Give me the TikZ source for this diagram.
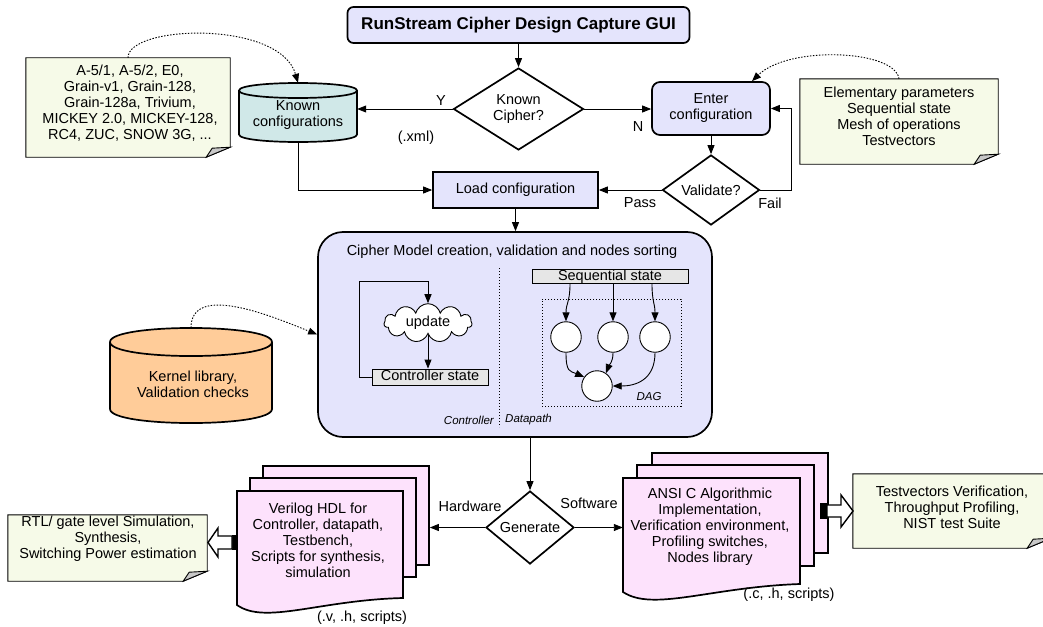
\documentclass[tikz,border=0pt]{standalone}
\usepackage{fontspec}
\setmainfont{Liberation Sans}
\usetikzlibrary{shapes.geometric,shapes.symbols,arrows.meta,calc}
\definecolor{lavfill}{RGB}{228,228,252}
\definecolor{kcfill}{RGB}{208,232,232}
\definecolor{kernfill}{RGB}{255,204,153}
\definecolor{docfill}{RGB}{253,226,252}
\definecolor{notefill}{RGB}{246,250,232}
\definecolor{boxgray}{RGB}{230,230,230}
\definecolor{foldgray}{RGB}{200,200,200}
\tikzset{
  every node/.style={font=\fontsize{14.5}{16}\selectfont, inner sep=0pt, align=center},
  thickline/.style={line width=1.7pt},
  thinline/.style={line width=0.9pt},
  arr/.style={thinline, -{Triangle[length=9pt,width=7pt]}},
  dotarr/.style={thinline, dash pattern=on 1.5pt off 1.5pt, -{Triangle[length=9pt,width=7pt]}},
  proc/.style={draw, thickline, fill=lavfill},
  dia/.style={diamond, draw, thickline, fill=white},
  sheet/.style={draw, thickline, fill=docfill},
  graybox/.style={draw, thinline, fill=boxgray, text height=10pt, text depth=3pt},
  small/.style={font=\fontsize{11.5}{13}\selectfont\itshape},
  holder/.style={draw=none, fill=none},
  notebg/.style={draw, thinline, fill=notefill},
  dnode/.style={circle, draw, thinline, fill=white, minimum size=30.5},
  dotline/.style={thinline, dash pattern=on 1.2pt off 1.8pt},
}
\newcommand{\mynote}[1]{%
  \filldraw[notebg] (#1.north west) -- (#1.north east) -- ([yshift=10pt]#1.south east) -- ([xshift=-24pt]#1.south east) -- (#1.south west) -- cycle;
  \filldraw[thinline, fill=foldgray] ([yshift=10pt]#1.south east) -- ([xshift=-24pt]#1.south east) -- ([xshift=-18pt,yshift=9pt]#1.south east) -- cycle;}
\begin{document}
\begin{tikzpicture}[x=1pt,y=-1pt]
\fill[white] (0,0) rectangle (1043,626);
\useasboundingbox (0,0) rectangle (1043,626);

% title
\node[proc, rounded corners=6pt, minimum width=342, minimum height=36, font=\bfseries\fontsize{17}{20}\selectfont] (title) at (518.5,25) {RunStream Cipher Design Capture GUI};
\node[dia, minimum width=130, minimum height=82] (kcd) at (518.5,109) {Known\\Cipher?};

% known configurations cylinder
\node[holder, minimum width=118, minimum height=59] (kc) at (298,112.5) {};
\filldraw[thickline, fill=kcfill] (239,90.5) -- (239,134.5) .. controls (239,144.5) and (357,144.5) .. (357,134.5) -- (357,90.5) .. controls (357,80.5) and (239,80.5) .. (239,90.5) -- cycle;
\draw[thickline] (239,90.5) .. controls (239,100.5) and (357,100.5) .. (357,90.5);
\node (kct) at (298,115) {Known\\configurations};

\node[proc, rounded corners=8pt, minimum width=118, minimum height=53] (enter) at (711,108.5) {Enter\\configuration};
\node[dia, minimum width=97, minimum height=64] (val) at (711,190) {Validate?};
\node[proc, minimum width=165, minimum height=36] (load) at (515.5,190) {Load configuration};

% notes
\node[holder, minimum width=204, minimum height=99] (n1) at (128,107.5) {};
\mynote{n1}
\node (n1t) at (130,103) {A-5/1, A-5/2, E0,\\Grain-v1, Grain-128,\\Grain-128a, Trivium,\\MICKEY 2.0, MICKEY-128,\\RC4, ZUC, SNOW 3G, ...};
\node[holder, minimum width=198, minimum height=85] (n2) at (899,121.5) {};
\mynote{n2}
\node (n2t) at (899,116.5) {Elementary parameters\\Sequential state\\Mesh of operations\\Testvectors};

% top connectors
\draw[arr] (title.south) -- (kcd.north);
\draw[arr] (kcd.west) -- (kcd.west -| kc.east);
\draw[arr] (kcd.east) -- (kcd.east -| enter.west);
\draw[arr] (enter.south) -- (val.north);
\draw[arr] (val.east) -- ++(31,0) |- (enter.east);
\draw[arr] (val.west) -- (load.east);
\draw[arr] (kc.south) |- (load.west);
\node (ylab) at (441,101) {Y};
\node (nlab) at (638,127) {N};
\node (xml) at (416,138) {(.xml)};
\node (pass) at (640,203) {Pass};
\node (fail) at (770,203) {Fail};
\draw[dotarr] (n1.north) .. controls +(0,-33) and +(-18,-63) .. (kc.north);
\draw[dotarr] (n2.north) .. controls +(-4,-29) and +(37,-36) .. ([xshift=41pt]enter.north);

% cipher model
\node[proc, rounded corners=25pt, minimum width=394, minimum height=205] (cm) at (515,334.5) {};
\draw[arr] (load.south) -- (load.south |- cm.north);
\node (cmt) at (512,252) {Cipher Model creation, validation and nodes sorting};
\draw[dotline] (499,268) -- (499,427);
\node[small, anchor=east] (ctl) at (494,420) {Controller};
\node[small, anchor=west] (dp) at (505,420) {Datapath};
\node[graybox, minimum width=116, minimum height=16] (cs) at (430,377) {Controller state};
\node[cloud, draw, thinline, fill=white, cloud puffs=11, aspect=2.4, minimum width=88, minimum height=36] (upd) at (428,323) {update};
\draw[arr] (upd.south) -- (upd.south |- cs.north);
\draw[arr] (cs.west) -- ++(-12,0) |- ($(upd.north)+(0,-22)$) -- (upd.north);

\node[draw, dotline, minimum width=139, minimum height=107] (dag) at (611.5,352.5) {};
\node[small] (dagl) at (649,397) {DAG};
\node[graybox, minimum width=156, minimum height=14] (ss) at (610,276.5) {Sequential state};
\node[dnode] (c1) at (566,337) {};
\node[dnode] (c2) at (613,337) {};
\node[dnode] (c3) at (655,337) {};
\node[dnode] (c4) at (597,386) {};
\draw[arr] ([xshift=-40pt]ss.south) .. controls +(0,18) and +(0,-18) .. (c1.north);
\draw[arr] ([xshift=3pt]ss.south) -- (c2.north);
\draw[arr] ([xshift=42pt]ss.south) .. controls +(0,18) and +(0,-18) .. (c3.north);
\draw[arr] (c1.south) .. controls +(0,20) and +(-14,-6) .. (c4.145);
\draw[arr] (c2.south) .. controls +(0,10) and +(3,-8) .. (c4.55);
\draw[arr] (c3.south) .. controls +(0,28) and +(22,0) .. (c4.east);

% kernel
\node[holder, minimum width=162, minimum height=95] (kern) at (191,375.5) {};
\filldraw[thickline, fill=kernfill] (110,342) -- (110,409) .. controls (110,427.7) and (272,427.7) .. (272,409) -- (272,342) .. controls (272,323.3) and (110,323.3) .. (110,342) -- cycle;
\draw[thickline] (110,342) .. controls (110,360.7) and (272,360.7) .. (272,342);
\node (kernt) at (193,384) {Kernel library,\\Validation checks};
\draw[dotarr] (kern.north) .. controls +(0,-46) and +(-42,-17) .. (cm.west);

% generate
\node[dia, minimum width=88, minimum height=73] (gen) at (530,527.5) {Generate};
\draw[arr] (gen.north |- cm.south) -- (gen.north);

% hardware docs
\node[sheet, minimum width=166, minimum height=99] (hwb) at (346,515.5) {};
\node[sheet, minimum width=166, minimum height=99] (hwm) at (333,527.5) {};
\node[holder, minimum width=166, minimum height=114] (hwf) at (320,548) {};
\filldraw[thickline, fill=docfill] (237,491) -- (403,491) -- (403,598) .. controls (320,600) and (265,625) .. (237,605) -- cycle;
\node (hwt) at (318,540) {Verilog HDL for\\Controller, datapath,\\Testbench,\\Scripts for synthesis,\\simulation};
\node (hwx) at (362,618) {(.v, .h, scripts)};
\draw[arr] (gen.west) -- (gen.west -| hwb.east);
\node (hwl) at (470,506) {Hardware};

\node[holder, minimum width=199, minimum height=66] (n3) at (107.5,548) {};
\mynote{n3}
\node (n3t) at (108,539) {RTL/ gate level Simulation,\\Synthesis,\\Switching Power estimation};
\fill (232,535) rectangle (237,550);
\draw[line width=1.4pt, fill=white] (232,536) -- (218,536) -- (218,528) -- (208,542.5) -- (218,557) -- (218,549) -- (232,549) -- cycle;

% software docs
\node[sheet, minimum width=176, minimum height=100] (swb) at (740,503) {};
\node[sheet, minimum width=177, minimum height=101] (swm) at (725.5,515.5) {};
\node[holder, minimum width=177, minimum height=115] (swf) at (711.5,535.5) {};
\filldraw[thickline, fill=docfill] (623,478) -- (800,478) -- (800,584) .. controls (711,587) and (653,612) .. (623,592) -- cycle;
\node (swt) at (710,527) {ANSI C Algorithmic\\Implementation,\\Verification environment,\\Profiling switches,\\Nodes library};
\node (swx) at (789,595) {(.c, .h, scripts)};
\draw[arr] (gen.east) -- (gen.east -| swf.west);
\node (swl) at (589,503) {Software};

\node[holder, minimum width=198, minimum height=74] (n4) at (952,511) {};
\mynote{n4}
\node (n4t) at (952,507) {Testvectors Verification,\\Throughput Profiling,\\NIST test Suite};
\fill (820,503) rectangle (827,519);
\draw[line width=1.4pt, fill=white] (827,505) -- (841,505) -- (841,495) -- (853,511) -- (841,527) -- (841,517) -- (827,517) -- cycle;
\end{tikzpicture}
\end{document}
